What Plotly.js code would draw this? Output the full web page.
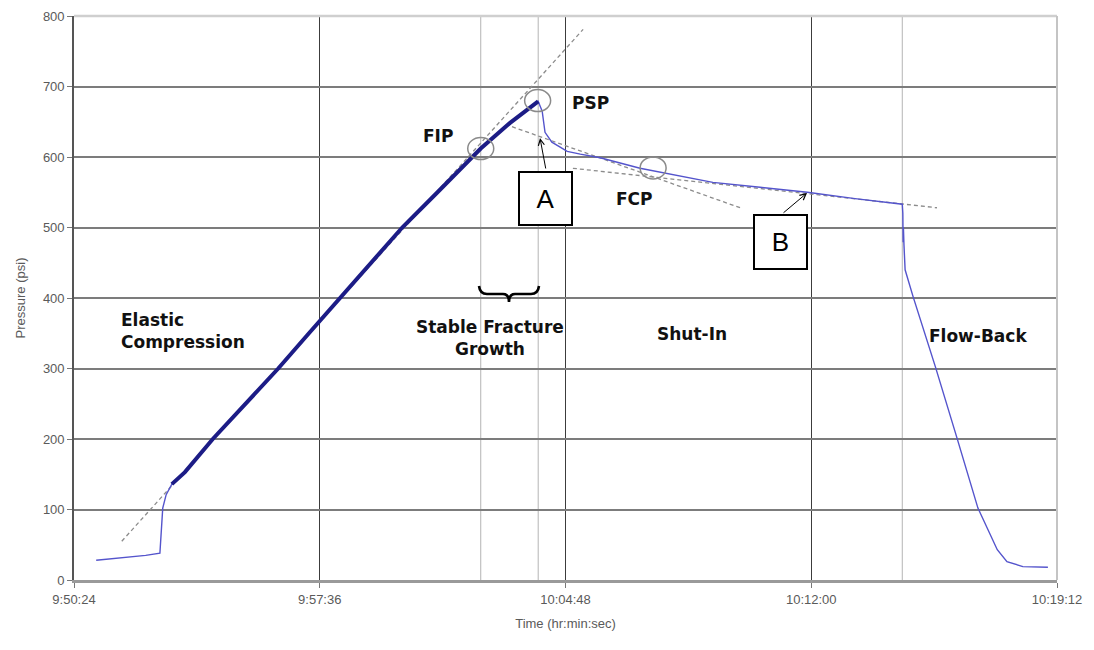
<!DOCTYPE html>
<html>
<head>
<meta charset="utf-8">
<script src="https://cdn.plot.ly/plotly-3.0.1.min.js"></script>
<style>html,body{margin:0;padding:0;background:#fff;}#chart{width:1094px;height:650px;}</style>
</head>
<body>
<div id="chart"></div>
<script>
// ---- Data ----
const DAY = '2000-01-01 ';
const times = ['09:51:03','09:51:30','09:52:02','09:52:30','09:52:55','09:52:57','09:53:00','09:53:06','09:53:16','09:53:39',
  '09:54:28','09:55:25','09:56:23','09:57:17','09:58:12','09:59:06','10:00:01','10:01:03','10:02:05','10:02:19',
  '10:03:10','10:04:00','10:04:07','10:04:12','10:04:24','10:04:51','10:05:14','10:05:49','10:06:59','10:08:00',
  '10:09:07','10:10:30','10:11:53','10:13:17','10:14:36','10:14:40','10:14:41','10:14:41.5','10:14:42','10:14:43',
  '10:14:45','10:14:59','10:15:38','10:16:16','10:16:53','10:17:27','10:17:44','10:18:12','10:18:56'];
const pressures = [28,30,32,35,38,71,102,121,136,153,
  200,250,300,350,400,450,500,550,600,612,
  648,679,665,635,621,608,604,599,584,574,
  564,557,550,541,534,533,520,479,500,475,
  440,402,303,202,102,43,26,19,18];
const rampStart = '09:53:16', rampEnd = '10:04:00';

// tangent (dashed) lines: [start, end]
const tangentTimes = [['09:51:48','10:05:19'], ['10:03:14','10:09:55'], ['10:05:01','10:15:41']];
const tangentPressures = [[55,781], [643,528], [584,528]];

// marked points (FIP, PSP, FCP)
const markTimes = ['10:02:19','10:03:59','10:07:22'];
const markPressures = [612,680,584.5];

// phase boundary lines
const boundaryTimes = ['10:02:19','10:04:00','10:14:40'];

// axis ticks
const yTicks = [0,100,200,300,400,500,600,700,800];
const xRange = ['09:50:24','10:19:12'];

// ---- Figure ----
const T = s => DAY + s;
const i0 = times.indexOf(rampStart), i1 = times.indexOf(rampEnd);

const traces = [];
tangentTimes.forEach((tt, k) => {
  traces.push({x: tt.map(T), y: tangentPressures[k], mode: 'lines', type: 'scatter', hoverinfo: 'skip',
    line: {color: '#8c8c8c', width: 1.3, dash: '4px,3px'}});
});
traces.push({x: times.map(T), y: pressures, mode: 'lines', type: 'scatter',
  line: {color: '#5454cc', width: 1.4}});
traces.push({x: times.slice(i0, i1 + 1).map(T), y: pressures.slice(i0, i1 + 1), mode: 'lines', type: 'scatter',
  line: {color: '#1c1c86', width: 4}});

const L = 74, R = 1057, TOP = 16, BOT = 580;
const px = x => (x - L) / (R - L);
const py = y => (BOT - y) / (BOT - TOP);

const shapes = [];
boundaryTimes.forEach(t => shapes.push({type: 'line', xref: 'x', yref: 'paper', x0: T(t), x1: T(t), y0: 0, y1: 1,
  line: {color: '#b4b4b4', width: 1}, layer: 'below'}));
// lighter top and right border
shapes.push({type: 'line', xref: 'paper', yref: 'paper', x0: 0, x1: 1, y0: 1, y1: 1, line: {color: '#cfcfcf', width: 2.5}});
shapes.push({type: 'line', xref: 'paper', yref: 'paper', x0: 1, x1: 1, y0: 0, y1: 1, line: {color: '#c4c4c4', width: 2}});
markTimes.forEach((t, k) => shapes.push({type: 'circle', xref: 'x', yref: 'y', xsizemode: 'pixel', ysizemode: 'pixel',
  xanchor: T(t), yanchor: markPressures[k], x0: -13, x1: 13, y0: -11, y1: 11,
  line: {color: '#8a8a8a', width: 1.5}, fillcolor: 'rgba(0,0,0,0)'}));
// brace over "Stable Fracture Growth"
const bp = [[479,286],[480,294],[487,294],[503,294],[509,294],[509,302],[509,294],[515,294],[531,294],[538,294],[539,286]];
const P = i => px(bp[i][0]).toFixed(5) + ',' + py(bp[i][1]).toFixed(5);
shapes.push({type: 'path', xref: 'paper', yref: 'paper',
  path: `M${P(0)} Q${P(1)} ${P(2)} L${P(3)} Q${P(4)} ${P(5)} Q${P(6)} ${P(7)} L${P(8)} Q${P(9)} ${P(10)}`,
  line: {color: '#000', width: 2.6}});

const lab = {family: 'DejaVu Sans, Verdana, sans-serif', size: 17, color: '#111'};
const txt = (t, x, y, extra) => Object.assign({text: '<b>' + t + '</b>', xref: 'paper', yref: 'paper', x: px(x), y: py(y),
  xanchor: 'center', yanchor: 'middle', showarrow: false, font: lab}, extra || {});
const boxFont = {family: 'Liberation Sans, Arial, sans-serif', size: 26, color: '#000'};
const annotations = [
  txt('FIP', 438, 136),
  txt('PSP', 590, 103),
  txt('FCP', 634, 199),
  txt('Elastic<br>Compression', 119, 331, {xanchor: 'left', align: 'left'}),
  txt('Stable Fracture<br>Growth', 490, 338),
  txt('Shut-In', 692, 334),
  txt('Flow-Back', 978, 336),
  // A and B boxes
  {text: 'A', xref: 'paper', yref: 'paper', x: px(545.5), y: py(198.5), xanchor: 'center', yanchor: 'middle',
   showarrow: false, width: 51, height: 51, valign: 'middle',
   bordercolor: '#000', borderwidth: 2, borderpad: 0, bgcolor: '#fff', font: boxFont},
  {text: 'B', xref: 'paper', yref: 'paper', x: px(780.5), y: py(242), xanchor: 'center', yanchor: 'middle',
   showarrow: false, width: 51, height: 52, valign: 'middle',
   bordercolor: '#000', borderwidth: 2, borderpad: 0, bgcolor: '#fff', font: boxFont},
  {text: '', xref: 'paper', yref: 'paper', x: px(540), y: py(138), ax: 6, ay: 32, showarrow: true,
   arrowhead: 5, arrowsize: 1.2, arrowwidth: 1, arrowcolor: '#000', standoff: 0},
  {text: '', xref: 'paper', yref: 'paper', x: px(807), y: py(193), ax: -25, ay: 21, showarrow: true,
   arrowhead: 5, arrowsize: 1.2, arrowwidth: 1, arrowcolor: '#000', standoff: 0}
];

const tickFont = {family: 'Liberation Sans, Arial, sans-serif', size: 13, color: '#5a5a5a'};
const layout = {
  width: 1094, height: 650,
  margin: {l: L, r: 1094 - R, t: TOP, b: 650 - BOT},
  paper_bgcolor: '#fff', plot_bgcolor: '#fff',
  showlegend: false,
  xaxis: {
    type: 'date', range: xRange.map(T), tick0: T(xRange[0]), dtick: 432000, tickformat: '%-H:%M:%S',
    showgrid: true, gridcolor: '#3c3c3c', gridwidth: 1.3,
    showline: true, linecolor: '#9a9a9a', linewidth: 3,
    ticks: 'outside', ticklen: 5, tickcolor: '#777', tickfont: tickFont,
    zeroline: false, fixedrange: true,
    title: {text: 'Time (hr:min:sec)', font: {family: 'Liberation Sans, Arial, sans-serif', size: 13, color: '#5a5a5a'}, standoff: 14}
  },
  yaxis: {
    range: [0, 800], tickvals: yTicks, ticktext: yTicks.map(String),
    showgrid: true, gridcolor: '#7c7c7c', gridwidth: 2,
    showline: true, linecolor: '#555', linewidth: 1.8,
    ticks: 'outside', ticklen: 5, tickcolor: '#777', tickfont: tickFont,
    zeroline: false, fixedrange: true,
    title: {text: 'Pressure (psi)', font: {family: 'Liberation Sans, Arial, sans-serif', size: 13, color: '#5a5a5a'}, standoff: 14}
  },
  shapes: shapes,
  annotations: annotations
};

Plotly.newPlot('chart', traces, layout, {staticPlot: true, displayModeBar: false});
</script>
</body>
</html>
